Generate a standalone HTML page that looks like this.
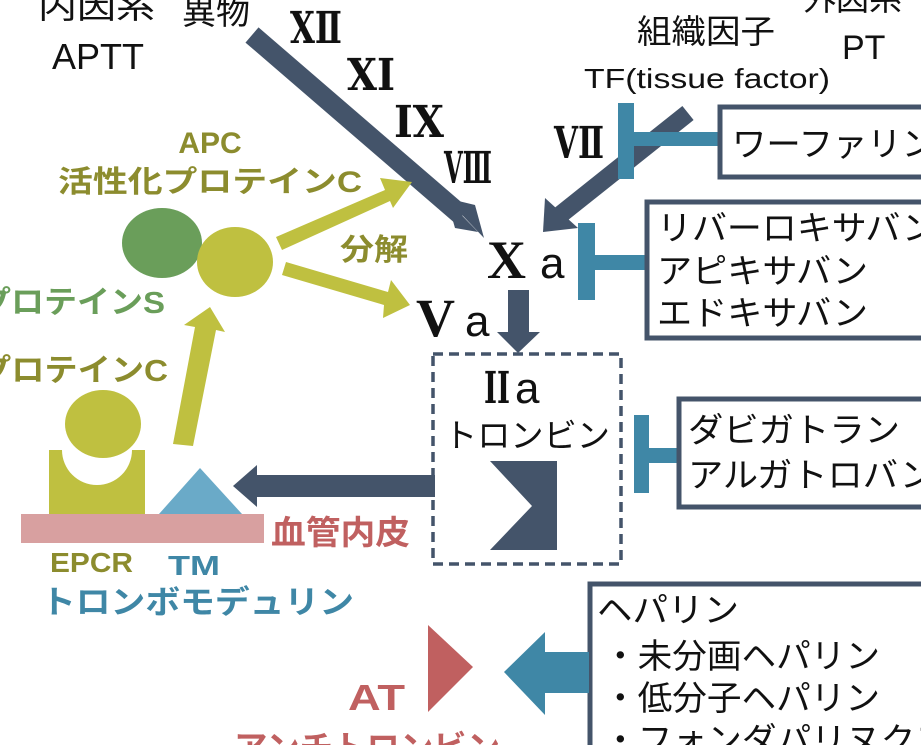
<!DOCTYPE html>
<html><head><meta charset="utf-8"><style>
html,body{margin:0;padding:0;background:#fff;width:921px;height:745px;overflow:hidden}
svg{display:block}
text{font-family:"Liberation Sans","Noto Sans CJK JP",sans-serif}
.b{font-weight:bold}
.s{font-family:"Liberation Serif","DejaVu Serif",serif;font-weight:bold}
</style></head><body>
<svg width="921" height="745" viewBox="0 0 921 745" xmlns="http://www.w3.org/2000/svg">
<text x="38" y="18" font-size="33" fill="#111" textLength="117" lengthAdjust="spacingAndGlyphs">内因系</text>
<text x="52" y="69" font-size="36" fill="#111">APTT</text>
<text x="182" y="24" font-size="33" fill="#111" textLength="68" lengthAdjust="spacingAndGlyphs">異物</text>
<text x="290" y="43" font-size="44" class="s" fill="#111" textLength="52" lengthAdjust="spacingAndGlyphs">ⅩⅡ</text>
<text x="347" y="90" font-size="44" class="s" fill="#111" textLength="48" lengthAdjust="spacingAndGlyphs">ⅩⅠ</text>
<text x="394" y="137" font-size="44" class="s" fill="#111" textLength="50" lengthAdjust="spacingAndGlyphs">ⅠⅩ</text>
<text x="444" y="183" font-size="44" class="s" fill="#111" textLength="48" lengthAdjust="spacingAndGlyphs">ⅤⅢ</text>
<text x="554" y="158" font-size="44" class="s" fill="#111" textLength="50" lengthAdjust="spacingAndGlyphs">ⅤⅡ</text>
<line x1="252" y1="35" x2="462" y2="216" stroke="#44546a" stroke-width="20"/>
<polygon points="446,198 484,238 475,205" fill="#44546a"/>
<polygon points="447,200 478,232 455,228" fill="#44546a"/>
<line x1="688" y1="113" x2="560" y2="215" stroke="#44546a" stroke-width="18"/>
<polygon points="543,232 545,198 578,228" fill="#44546a"/>
<text x="637" y="43" font-size="33" fill="#111" textLength="138" lengthAdjust="spacingAndGlyphs">組織因子</text>
<text x="803" y="10" font-size="33" fill="#111">外因系</text>
<text x="842" y="59" font-size="34" fill="#111">PT</text>
<text x="584" y="88" font-size="28" fill="#111" textLength="246" lengthAdjust="spacingAndGlyphs">TF(tissue factor)</text>
<rect x="618" y="103" width="16" height="76" fill="#3f87a6"/>
<rect x="634" y="132" width="86" height="14" fill="#3f87a6"/>
<rect x="720" y="107" width="215" height="70" fill="#fff" stroke="#44546a" stroke-width="5"/>
<text x="732" y="156" font-size="34" fill="#111" textLength="204" lengthAdjust="spacingAndGlyphs">ワーファリン</text>
<rect x="578" y="223" width="17" height="77" fill="#3f87a6"/>
<rect x="595" y="255" width="52" height="15" fill="#3f87a6"/>
<rect x="647" y="202" width="290" height="136" fill="#fff" stroke="#44546a" stroke-width="5"/>
<text x="657" y="240" font-size="34" fill="#111" textLength="280" lengthAdjust="spacingAndGlyphs">リバーロキサバン</text>
<text x="657" y="283" font-size="34" fill="#111" textLength="211" lengthAdjust="spacingAndGlyphs">アピキサバン</text>
<text x="657" y="325" font-size="34" fill="#111" textLength="211" lengthAdjust="spacingAndGlyphs">エドキサバン</text>
<text x="487" y="278" font-size="54" class="s" fill="#111">X</text>
<text x="540" y="278" font-size="44" fill="#111">a</text>
<text x="416" y="336" font-size="54" class="s" fill="#111">V</text>
<text x="465" y="336" font-size="44" fill="#111">a</text>
<rect x="508" y="290" width="21" height="43" fill="#44546a"/>
<polygon points="497,332 540,332 518,353" fill="#44546a"/>
<text x="210" y="153" font-size="30" class="b" fill="#8c8c2e" text-anchor="middle">APC</text>
<text x="58" y="192" font-size="30" class="b" fill="#8c8c2e" textLength="304" lengthAdjust="spacingAndGlyphs">活性化プロテインC</text>
<ellipse cx="162" cy="243" rx="40" ry="35" fill="#6a9e5a"/>
<ellipse cx="235" cy="262" rx="38" ry="35" fill="#bfc040"/>
<polygon points="276,237 385,190 380,178 412,182 393,208 390,201 282,250" fill="#bfc040"/>
<polygon points="286,262 388,292 391,280 410,305 383,318 384,305 282,275" fill="#bfc040"/>
<text x="340" y="260" font-size="30" class="b" fill="#8c8c2e" textLength="68" lengthAdjust="spacingAndGlyphs">分解</text>
<text x="-22" y="313" font-size="31" class="b" fill="#6a9e5a" textLength="187" lengthAdjust="spacingAndGlyphs">プロテインS</text>
<text x="-22" y="381" font-size="31" class="b" fill="#8c8c2e" textLength="190" lengthAdjust="spacingAndGlyphs">プロテインC</text>
<polygon points="173,444 193,446 216,330 225,332 210,307 184,325 195,327" fill="#bfc040"/>
<ellipse cx="103" cy="424" rx="38" ry="34" fill="#bfc040"/>
<path d="M49,450 L62,450 A35,35 0 0 0 132,450 L145,450 L145,515 L49,515 Z" fill="#bfc040"/>
<polygon points="200,468 159,514 242,514" fill="#6aaac8"/>
<rect x="21" y="514" width="243" height="29" fill="#d8a0a0"/>
<text x="271" y="544" font-size="33" class="b" fill="#c06060" textLength="139" lengthAdjust="spacingAndGlyphs">血管内皮</text>
<text x="50" y="572" font-size="28" class="b" fill="#8c8c2e" textLength="83" lengthAdjust="spacingAndGlyphs">EPCR</text>
<text x="168" y="575" font-size="28" class="b" fill="#3f87a6" textLength="52" lengthAdjust="spacingAndGlyphs">TM</text>
<text x="41" y="613" font-size="32" class="b" fill="#3f87a6" textLength="313" lengthAdjust="spacingAndGlyphs">トロンボモデュリン</text>
<rect x="255" y="475" width="180" height="22" fill="#44546a"/>
<polygon points="233,486 257,465 257,507" fill="#44546a"/>
<rect x="433" y="354" width="188" height="210" fill="none" stroke="#44546a" stroke-width="3.5" stroke-dasharray="10,6"/>
<text x="484" y="403" font-size="44" class="s" fill="#111" textLength="26" lengthAdjust="spacingAndGlyphs">ⅠⅠ</text>
<text x="515" y="403" font-size="44" fill="#111">a</text>
<text x="444" y="447" font-size="33" fill="#111" textLength="166" lengthAdjust="spacingAndGlyphs">トロンビン</text>
<polygon points="490,461 557,461 557,550 490,550 532,506" fill="#44546a"/>
<rect x="634" y="415" width="15" height="78" fill="#3f87a6"/>
<rect x="649" y="448" width="31" height="15" fill="#3f87a6"/>
<rect x="679" y="399" width="260" height="108" fill="#fff" stroke="#44546a" stroke-width="5"/>
<text x="688" y="442" font-size="34" fill="#111" textLength="212" lengthAdjust="spacingAndGlyphs">ダビガトラン</text>
<text x="688" y="487" font-size="34" fill="#111" textLength="247" lengthAdjust="spacingAndGlyphs">アルガトロバン</text>
<rect x="590" y="584" width="345" height="180" fill="#fff" stroke="#44546a" stroke-width="5"/>
<text x="597" y="622" font-size="34" fill="#111" textLength="142" lengthAdjust="spacingAndGlyphs">ヘパリン</text>
<text x="603" y="668" font-size="34" fill="#111" textLength="277" lengthAdjust="spacingAndGlyphs">・未分画ヘパリン</text>
<text x="603" y="710" font-size="34" fill="#111" textLength="277" lengthAdjust="spacingAndGlyphs">・低分子ヘパリン</text>
<text x="603" y="752" font-size="34" fill="#111" textLength="346" lengthAdjust="spacingAndGlyphs">・フォンダパリヌクス</text>
<rect x="543" y="652" width="46" height="41" fill="#3f87a6"/>
<polygon points="504,672 545,632 545,715" fill="#3f87a6"/>
<polygon points="428,625 473,667 428,712" fill="#c06060"/>
<text x="348" y="710" font-size="36" class="b" fill="#c06060" textLength="57" lengthAdjust="spacingAndGlyphs">AT</text>
<text x="234" y="760" font-size="34" class="b" fill="#c06060" textLength="266" lengthAdjust="spacingAndGlyphs">アンチトロンビン</text>
</svg>
</body></html>
